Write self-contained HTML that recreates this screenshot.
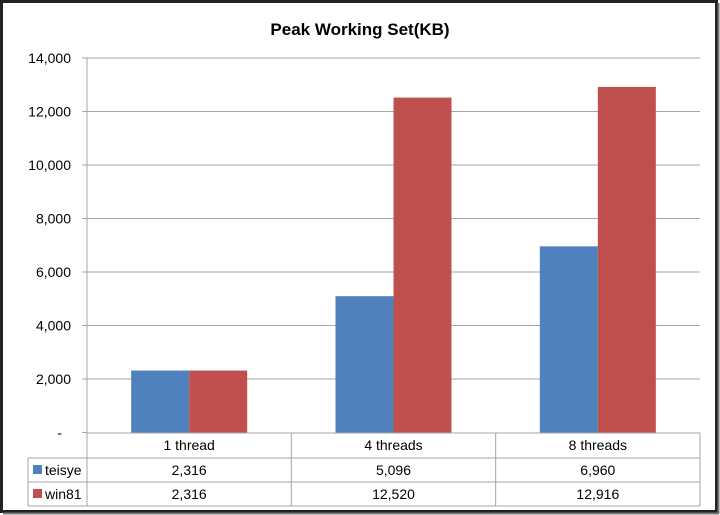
<!DOCTYPE html>
<html><head><meta charset="utf-8"><style>
body{margin:0;background:#fff;}
svg{display:block;font-family:"Liberation Sans",sans-serif;}
</style></head><body>
<svg width="720" height="515">
<rect x="1.5" y="1.5" width="715" height="510" fill="#fff" stroke="#222" stroke-width="3"/>
<line x1="3" y1="513.5" x2="719" y2="513.5" stroke="#777" stroke-width="2"/>
<line x1="718.5" y1="3" x2="718.5" y2="514" stroke="#777" stroke-width="2"/>
<text x="360" y="35" text-anchor="middle" font-size="17" font-weight="bold" fill="#000">Peak Working Set(KB)</text>
<g id="g"></g>
</svg>
<script>
const categories=["1 thread","4 threads","8 threads"];
const teisye=[2316,5096,6960];
const win81=[2316,12520,12916];
const yTicks=[0,2000,4000,6000,8000,10000,12000,14000];
const seriesNames=["teisye","win81"];
const colors=["#4f81bd","#c0504d"];
const L=87,R=700,T=58,B=432.5,max=14000;
const y=v=>B-(v/max)*(B-T);
const cw=(R-L)/categories.length;
const x=i=>L+cw*i;
const g=document.getElementById('g');
const NS="http://www.w3.org/2000/svg";
function mk(t,a){const e=document.createElementNS(NS,t);for(const k in a)e.setAttribute(k,a[k]);g.appendChild(e);return e;}
const fmt=v=>v===0?"-":v.toLocaleString('en-US');
yTicks.forEach(v=>{
  if(v>0){const l=mk('line',{x1:L,x2:R,y1:y(v),y2:y(v),stroke:'#a6a6a6','stroke-width':1});
  
  }
  mk('line',{x1:L-5,x2:L,y1:y(v),y2:y(v),stroke:'#a6a6a6'});
  const t=mk('text',{x:v===0?62:71,y:y(v)+5,'text-anchor':'end','font-size':14,fill:'#000'});
  t.textContent=fmt(v);
  
  
});
mk('line',{x1:L,x2:L,y1:T,y2:B,stroke:'#a6a6a6'});
const bw=58;
[teisye,win81].forEach((s,si)=>{
  s.forEach((v,i)=>{
    const cx=x(i)+cw/2;
    const r=mk('rect',{x:cx-bw+si*bw,y:y(v),width:bw,height:B-y(v),fill:colors[si]});
    
    
  });
});
const rows=[433,458,482,506];
const st={stroke:'#a6a6a6','stroke-width':1,fill:'none'};
mk('line',{x1:L,x2:R,y1:rows[0],y2:rows[0],...st});
for(let r=1;r<4;r++)mk('line',{x1:28,x2:R,y1:rows[r],y2:rows[r],...st});
mk('line',{x1:28,x2:28,y1:rows[1],y2:rows[3],...st});
for(let i=0;i<=3;i++)mk('line',{x1:x(i),x2:x(i),y1:rows[0],y2:rows[3],...st});
categories.forEach((c,i)=>{
  const t=mk('text',{x:x(i)+cw/2,y:rows[0]+17,'text-anchor':'middle','font-size':14,fill:'#000'});
  t.textContent=c;
  
  
});
[teisye,win81].forEach((s,si)=>{
  const ry=rows[si+1];
  const k=mk('rect',{x:33,y:ry+7,width:9,height:9,fill:colors[si]});
  
  
  const n=mk('text',{x:45,y:ry+17,'font-size':14,fill:'#000'});
  n.textContent=seriesNames[si];
  
  
  s.forEach((v,i)=>{
    const t=mk('text',{x:x(i)+cw/2,y:ry+17,'text-anchor':'middle','font-size':14,fill:'#000'});
    t.textContent=fmt(v);
    
    
  });
});
</script>
</body></html>
